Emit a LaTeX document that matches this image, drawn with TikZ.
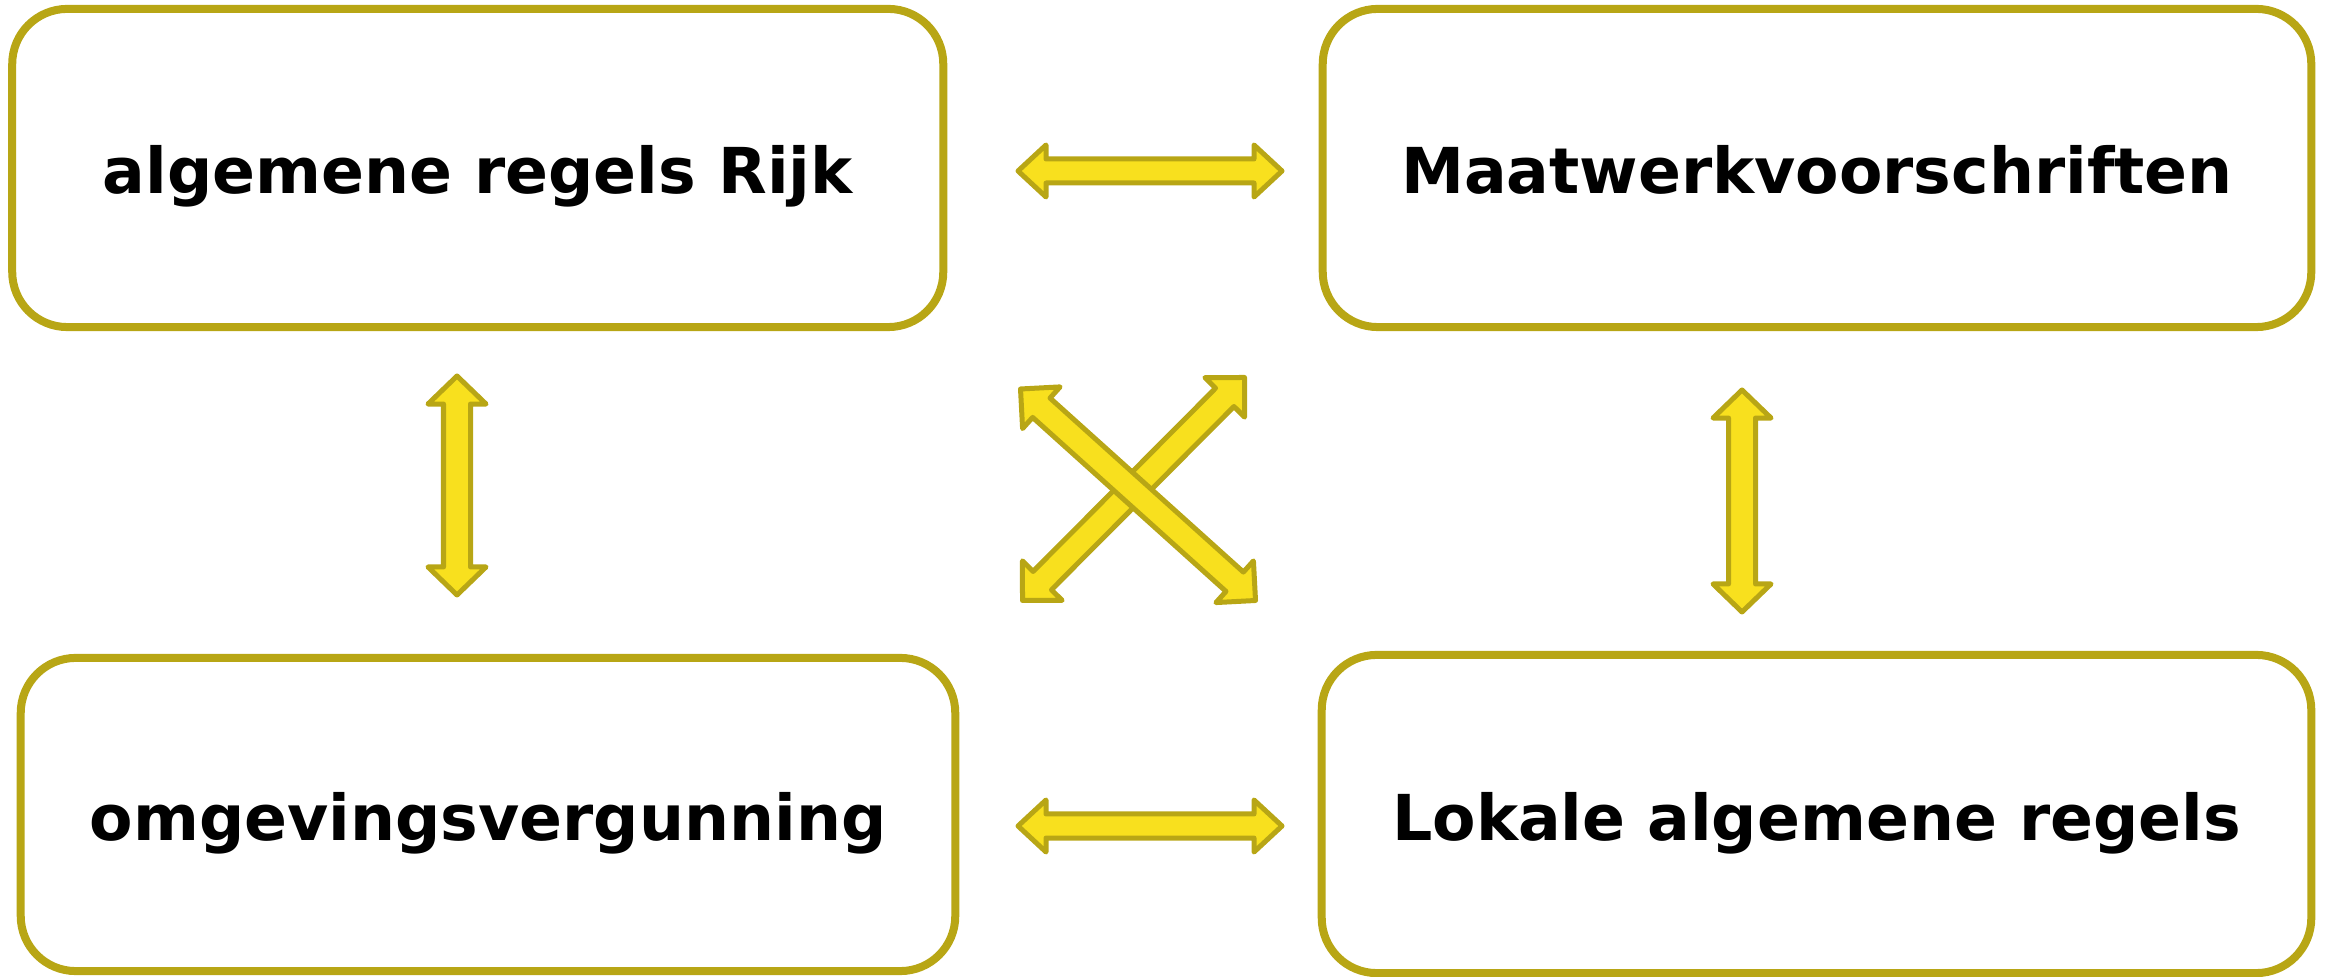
\documentclass[tikz,border=0pt]{standalone}
\usepackage{fontspec}
\setmainfont{DejaVu Sans}
\usetikzlibrary{calc}
\definecolor{olive}{RGB}{184,166,21}
\definecolor{ylw}{RGB}{248,224,30}
\tikzset{
  box/.style={draw=olive, line width=0.08cm, rounded corners=0.55cm, fill=white,
    inner sep=0pt, text height=0.52cm, text depth=0cm,
    font=\fontsize{18pt}{22pt}\selectfont\bfseries},
  barrow/.style={draw=olive, fill=ylw, line width=0.05cm, line join=round}
}
\newcommand{\blockarrow}[5]{%
  \path ($(#1)!#3!(#2)$) coordinate (qq) ($(#2)!#3!(#1)$) coordinate (rr);
  \draw[barrow] (#1) -- ($(qq)!#4!90:(#2)$) -- ($(qq)!#5!90:(#2)$)
    -- ($(rr)!#5!-90:(#1)$) -- ($(rr)!#4!-90:(#1)$) -- (#2)
    -- ($(rr)!#4!90:(#1)$) -- ($(rr)!#5!90:(#1)$)
    -- ($(qq)!#5!-90:(#2)$) -- ($(qq)!#4!-90:(#2)$) -- cycle;
}
\begin{document}
\begin{tikzpicture}[x=0.01cm, y=-0.01cm]
\useasboundingbox (0,0) rectangle (2328,977);
% boxes
\node[box, minimum width=9.305cm, minimum height=3.18cm] (tl) at (477.75,168) {algemene regels Rijk};
\node[box, minimum width=9.88cm, minimum height=3.18cm] (tr) at (1817,168) {Maatwerkvoorschriften};
\node[box, minimum width=9.34cm, minimum height=3.13cm] (bl) at (488,814.5) {omgevingsvergunning};
\node[box, minimum width=9.89cm, minimum height=3.18cm] (br) at (1816.5,814) {Lokale algemene regels};
% arrow tips
\coordinate (h1a) at (1018,171);  \coordinate (h1b) at (1282,171);
\coordinate (h2a) at (1018,826);  \coordinate (h2b) at (1282,826);
\coordinate (v1a) at (457,376);   \coordinate (v1b) at (457,595);
\coordinate (v2a) at (1742,390);  \coordinate (v2b) at (1742,612);
\coordinate (d1a) at (1022.5,600.5); \coordinate (d1b) at (1244.5,377.5);
\coordinate (d2a) at (1020.5,389);   \coordinate (d2b) at (1255.5,600.5);
% block arrows
\blockarrow{h1a}{h1b}{0.28cm}{0.26cm}{0.12cm}
\blockarrow{h2a}{h2b}{0.28cm}{0.26cm}{0.12cm}
\blockarrow{v1a}{v1b}{0.28cm}{0.29cm}{0.135cm}
\blockarrow{v2a}{v2b}{0.28cm}{0.29cm}{0.135cm}
\blockarrow{d1a}{d1b}{0.28cm}{0.28cm}{0.13cm}
\blockarrow{d2a}{d2b}{0.28cm}{0.28cm}{0.13cm}
\end{tikzpicture}
\end{document}
